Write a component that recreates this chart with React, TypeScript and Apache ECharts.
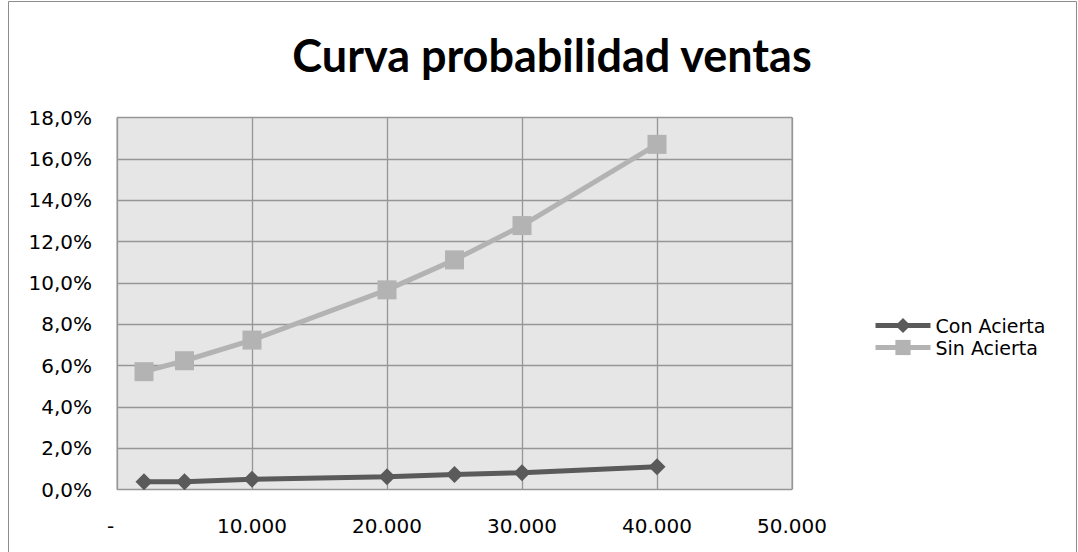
import React, { useEffect, useRef } from "react";
import * as echarts from "echarts";

const titleText = "Curva probabilidad ventas";
const xValues = [2000, 5000, 10000, 20000, 25000, 30000, 40000];
const conAcierta = [0.0037, 0.0038, 0.0049, 0.0062, 0.0073, 0.0081, 0.011];
const sinAcierta = [0.057, 0.0623, 0.0723, 0.0966, 0.1111, 0.1277, 0.167];
const seriesNames = ["Con Acierta", "Sin Acierta"];

const FONT = "'DejaVu Sans', sans-serif";

export default function App() {
  const ref = useRef<HTMLDivElement>(null);
  useEffect(() => {
    if (!ref.current) return;
    const chart = echarts.init(ref.current, undefined, { renderer: "svg" });
    const fmtY = (v: number) => (v * 100).toFixed(1).replace(".", ",") + "%";
    const fmtX = (v: number) =>
      v === 0 ? "-  " : v.toLocaleString("de-DE").replace(",", ".");
    chart.setOption({
      animation: false,
      backgroundColor: "#ffffff",
      title: {
        text: titleText,
        left: 547,
        textAlign: "center",
        top: 27,
        textStyle: {
          fontFamily: "Lato, 'Open Sans', sans-serif",
          fontWeight: "bold",
          fontSize: 45,
          color: "#000",
        },
      },
      graphic: [
        {
          type: "rect",
          shape: { x: 8.5, y: 1.5, width: 1068, height: 580 },
          style: { fill: "none", stroke: "#8c8c8c", lineWidth: 1 },
          silent: true,
          z: -1,
        },
      ],
      legend: {
        orient: "vertical",
        left: 873,
        top: 316,
        padding: 0,
        itemWidth: 55,
        itemHeight: 19,
        itemGap: 3,
        lineStyle: { width: 5 },
        textStyle: { fontFamily: FONT, fontSize: 19, color: "#000" },
        data: seriesNames,
      },
      grid: {
        left: 117,
        top: 117.5,
        right: 286,
        bottom: 62.5,
        show: true,
        backgroundColor: "#e6e6e6",
        borderColor: "#969696",
        borderWidth: 1,
      },
      xAxis: {
        type: "value",
        min: 0,
        max: 50000,
        interval: 10000,
        axisLine: { show: false },
        axisTick: { show: false },
        splitLine: { show: true, lineStyle: { color: "#969696", width: 1.3 } },
        axisLabel: {
          formatter: fmtX,
          margin: 26,
          fontFamily: FONT,
          fontSize: 20,
          color: "#000",
        },
      },
      yAxis: {
        type: "value",
        min: 0,
        max: 0.18,
        interval: 0.02,
        axisLine: { show: false },
        axisTick: { show: false },
        splitLine: { show: true, lineStyle: { color: "#969696", width: 1.3 } },
        axisLabel: {
          formatter: fmtY,
          margin: 25,
          fontFamily: FONT,
          fontSize: 20,
          color: "#000",
        },
      },
      series: [
        {
          name: seriesNames[0],
          type: "line",
          data: xValues.map((x, i) => [x, conAcierta[i]]),
          symbol: "diamond",
          symbolSize: 17,
          lineStyle: { color: "#5a5a5a", width: 5 },
          itemStyle: { color: "#5a5a5a" },
        },
        {
          name: seriesNames[1],
          type: "line",
          data: xValues.map((x, i) => [x, sinAcierta[i]]),
          symbol: "rect",
          symbolSize: 19,
          lineStyle: { color: "#b3b3b3", width: 5 },
          itemStyle: { color: "#b3b3b3" },
        },
      ],
    });
    return () => chart.dispose();
  }, []);
  return (
    <div
      ref={ref}
      style={{ position: "fixed", left: 0, top: 0, width: 1078, height: 552 }}
    />
  );
}
